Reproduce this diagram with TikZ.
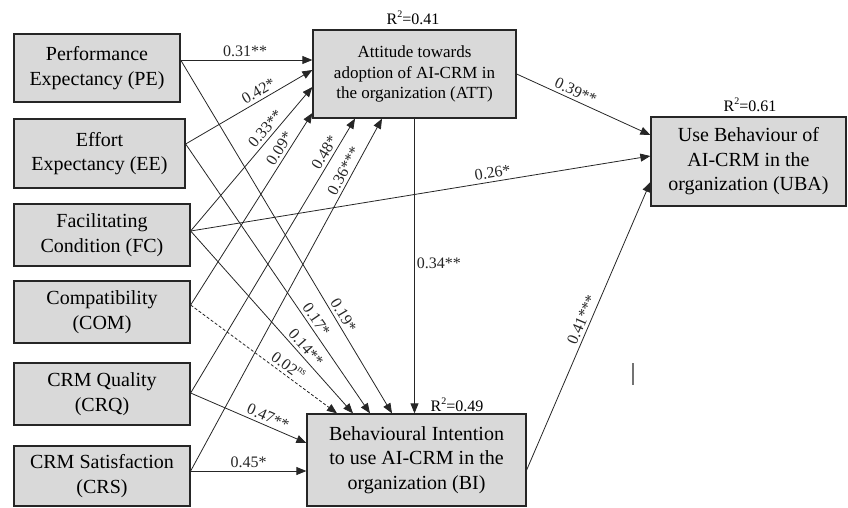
\documentclass[tikz,border=0pt]{standalone}
\usepackage{fontspec}
\setmainfont{Liberation Serif}
\usepackage{tikz}
\usetikzlibrary{calc, arrows.meta, positioning}
\tikzset{
    boxnode/.style = {draw=black!85, line width=1.3pt, fill=black!15, rectangle, inner sep=0pt,
      node distance=0em, align=center, font=\fontsize{20}{24.5}\selectfont},
    attnode/.style = {boxnode, font=\fontsize{17}{20.5}\selectfont},
    textnode/.style = {draw=none, fill=none, rectangle, inner sep=0pt, node distance=0em,
      font=\fontsize{16}{18}\selectfont},
    weightnode/.style = {draw=none, fill=none, sloped, above, inner sep=3pt,
      font=\fontsize{16}{18}\selectfont},
    connect/.style = {black!85, line width=0.8pt, -{Triangle[length=10pt, width=8pt]}},
    nsconnect/.style = {connect, dash pattern=on 3pt off 2pt},
}
\definecolor{markgray}{rgb}{0.45,0.45,0.45}
\newcommand{\supup}[1]{\raisebox{0.45em}{\fontsize{10}{10}\selectfont #1}}

\begin{document}
\begin{tikzpicture}[x=1pt, y=1pt]
\useasboundingbox (0,0) rectangle (848,-507);

\node [boxnode, name = pe, minimum width=166pt, minimum height=68pt] at (97,-68)
	{Performance\\Expectancy (PE)};
\node [boxnode, name = ee, minimum width=171pt, minimum height=69pt, below of = pe, xshift=2.5pt, yshift=-85.5pt]
	{Effort\\Expectancy (EE)};
\node [boxnode, name = fc, minimum width=176pt, minimum height=62pt, below of = ee, xshift=2.5pt, yshift=-81.5pt]
	{Facilitating\\Condition (FC)};
\node [boxnode, name = com, minimum width=176pt, minimum height=62pt, below of = fc, yshift=-77pt]
	{Compatibility\\(COM)};
\node [boxnode, name = crq, minimum width=176pt, minimum height=62pt, below of = com, yshift=-82pt]
	{CRM Quality\\(CRQ)};
\node [boxnode, name = crs, minimum width=176pt, minimum height=60pt, below of = crq, yshift=-82pt]
	{CRM Satisfaction\\(CRS)};

\node [attnode, name = att, minimum width=203pt, minimum height=88pt, right of = pe, xshift=317.5pt, yshift=-6pt]
	{Attitude towards\\adoption of AI-CRM in\\the organization (ATT)};
\node [boxnode, name = uba, minimum width=195pt, minimum height=89pt, right of = att, xshift=334pt, yshift=-87.5pt]
	{Use Behaviour of\\AI-CRM in the\\organization (UBA)};
\node [boxnode, name = bi, minimum width=219pt, minimum height=92pt, below of = att, xshift=2pt, yshift=-386pt]
	{Behavioural Intention\\to use AI-CRM in the\\organization (BI)};

\node [textnode, name = rtwoatt, above of = att, xshift=-1.5pt, yshift=56pt] {R\supup{2}=0.41};
\node [textnode, name = rtwouba, above of = uba, xshift=1.5pt, yshift=56.5pt] {R\supup{2}=0.61};
\node [textnode, name = rtwobi, above of = bi, xshift=40.5pt, yshift=55pt] {R\supup{2}=0.49};

\draw [connect] ($(pe.east)+(0,8)$) -- node [weightnode, pos=0.49] {0.31**} ($(att.west)+(0,14)$);
\draw [connect] ($(ee.east)+(0,9.5)$) -- node [weightnode, pos=0.61] {0.42*} ($(att.west)+(0,4)$);
\draw [connect] ($(fc.east)+(0,4)$) -- node [weightnode, pos=0.67] {0.33**} ($(att.west)+(0,-13)$);
\draw [connect] ($(com.east)+(0,7)$) -- node [weightnode, pos=0.79] {0.09*} ($(att.west)+(0,-39)$);
\draw [connect] ($(crq.east)+(0,1)$) -- node [weightnode, pos=0.86] {0.48*} ($(att.south)+(-59.5,0)$);
\draw [connect] ($(crs.east)+(0,5)$) -- node [weightnode, pos=0.84] {0.36***} ($(att.south)+(-32.5,0)$);

\draw [connect] ($(pe.east)+(0,8)$) -- node [weightnode, pos=0.735] {0.19*} ($(bi.north)+(-24.5,0)$);
\draw [connect] ($(ee.east)+(0,9.5)$) -- node [weightnode, pos=0.67] {0.17*} ($(bi.north)+(-46.5,0)$);
\draw [connect] ($(fc.east)+(0,4)$) -- node [weightnode, pos=0.67] {0.14**} ($(bi.north)+(-63.5,0)$);
\draw [nsconnect] ($(com.east)+(0,7)$) -- node [weightnode, pos=0.63] {0.02\supup{ns}} ($(bi.north)+(-79.5,0)$);
\draw [connect] ($(crq.east)+(0,1)$) -- node [weightnode, pos=0.64] {0.47**} ($(bi.west)+(0,17)$);
\draw [connect] ($(crs.east)+(0,5)$) -- node [weightnode, pos=0.5] {0.45*} ($(bi.west)+(0,-11)$);

\draw [connect] (att.south) -- node [textnode, right, pos=0.49, inner sep=2pt] {0.34**} (att.south |- bi.north);

\draw [connect] (att.east) -- node [weightnode, pos=0.415] {0.39**} ($(uba.west)+(0,26.5)$);
\draw [connect] ($(fc.east)+(0,4)$) -- node [weightnode, pos=0.66] {0.26*} ($(uba.west)+(0,5.5)$);
\draw [connect] ($(bi.east)+(0,-10)$) -- node [weightnode, pos=0.51] {0.41***} ($(uba.west)+(0,-20.5)$);

\draw [markgray, line width=1.5pt] (633,-363) -- (633,-385);

\end{tikzpicture}
\end{document}
